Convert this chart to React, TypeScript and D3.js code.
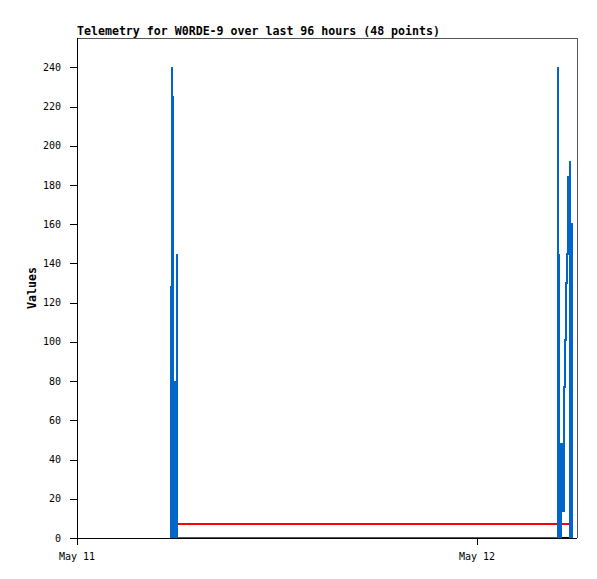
import React from "react";
import * as d3 from "d3";

const titleText = "Telemetry for W0RDE-9 over last 96 hours (48 points)";
const yAxisLabel = "Values";

const xDomain = ["2025-05-11T00:00:00Z", "2025-05-12T06:00:00Z"];
const xTickTimes = ["2025-05-11T00:00:00Z", "2025-05-12T00:00:00Z"];
const yDomain = [0, 255];
const yTicks = [0, 20, 40, 60, 80, 100, 120, 140, 160, 180, 200, 220, 240];

const blueTimes = [
  "2025-05-11T05:38:24Z", "2025-05-11T05:38:24Z", "2025-05-11T05:42:00Z", "2025-05-11T05:42:00Z",
  "2025-05-11T05:45:36Z", "2025-05-11T05:45:36Z", "2025-05-11T05:52:48Z", "2025-05-11T05:52:48Z",
  "2025-05-11T05:52:48Z", "2025-05-11T06:00:00Z", "2025-05-11T06:00:00Z", "2025-05-11T06:00:00Z",
  "2025-05-12T04:51:36Z", "2025-05-12T04:51:36Z", "2025-05-12T04:51:36Z", "2025-05-12T04:55:12Z",
  "2025-05-12T04:55:12Z", "2025-05-12T05:02:24Z", "2025-05-12T05:06:00Z", "2025-05-12T05:11:24Z",
  "2025-05-12T05:15:00Z", "2025-05-12T05:18:36Z", "2025-05-12T05:22:12Z", "2025-05-12T05:27:36Z",
  "2025-05-12T05:33:00Z", "2025-05-12T05:34:48Z", "2025-05-12T05:38:24Z", "2025-05-12T05:42:00Z",
  "2025-05-12T05:42:00Z",
];
const blueValues = [
  0, 128, 240, 225,
  225, 0, 0, 80,
  0, 0, 145, 0,
  0, 240, 0, 145,
  0, 48, 14, 77,
  101, 130, 145, 184,
  192, 0, 160, 64,
  0,
];

const redTimes = ["2025-05-11T05:42:00Z", "2025-05-12T05:34:48Z"];
const redValues = [7, 7];

const zeroTimes = ["2025-05-11T05:34:48Z", "2025-05-12T05:45:36Z"];
const zeroValues = [0, 0];

const W = 597;
const H = 579;
const M = { left: 77, right: 577, top: 38, bottom: 538 };
const MONO = "'DejaVu Sans Mono', 'Liberation Mono', monospace";

export default function App() {
  const x = d3.scaleUtc().domain(xDomain.map((d) => new Date(d))).range([M.left, M.right]);
  const y = d3.scaleLinear().domain(yDomain).range([M.bottom, M.top]);
  const fmt = d3.utcFormat("%b %d");

  const mk = (times: string[], vals: number[]) =>
    times.map((t, i) => ({ t: new Date(t), v: vals[i] }));
  const line = d3
    .line<{ t: Date; v: number }>()
    .x((d) => x(d.t))
    .y((d) => y(d.v));
  const stepLine = d3
    .line<{ t: Date; v: number }>()
    .x((d) => x(d.t))
    .y((d) => y(d.v))
    .curve(d3.curveStepAfter);

  const blue = mk(blueTimes, blueValues);
  const red = mk(redTimes, redValues);
  const zero = mk(zeroTimes, zeroValues);

  return (
    <svg
      width={W}
      height={H}
      style={{ position: "absolute", left: 0, top: 0, background: "#fff" }}
    >
      <rect x={0} y={0} width={W} height={H} fill="#fff" />
      {/* frame */}
      <line x1={M.left} x2={M.right} y1={M.top + 0.5} y2={M.top + 0.5} stroke="#555" strokeWidth={1} shapeRendering="crispEdges" />
      <line x1={M.right + 0.5} x2={M.right + 0.5} y1={M.top} y2={M.bottom} stroke="#555" strokeWidth={1} shapeRendering="crispEdges" />
      {/* series */}
      <path d={line(zero) || ""} fill="none" stroke="#000" strokeWidth={2} shapeRendering="crispEdges" />
      <path d={line(red) || ""} fill="none" stroke="#ff0000" strokeWidth={2} shapeRendering="crispEdges" />
      <path d={stepLine(blue) || ""} fill="none" stroke="#0066cc" strokeWidth={2} strokeLinejoin="miter" shapeRendering="crispEdges" />
      {/* axes */}
      <line x1={M.left + 0.5} x2={M.left + 0.5} y1={M.top} y2={M.bottom + 7} stroke="#000" strokeWidth={1} shapeRendering="crispEdges" />
      <line x1={M.left - 7} x2={M.right} y1={M.bottom + 0.5} y2={M.bottom + 0.5} stroke="#000" strokeWidth={1} shapeRendering="crispEdges" />
      {yTicks.map((t) => (
        <g key={t}>
          <line x1={M.left - 7} x2={M.left} y1={Math.round(y(t)) + 0.5} y2={Math.round(y(t)) + 0.5} stroke="#000" shapeRendering="crispEdges" />
          <text x={61} y={y(t)} dy="0.35em" textAnchor="end" fontFamily={MONO} fontSize={10} fill="#000">
            {t}
          </text>
        </g>
      ))}
      {xTickTimes.map((s) => {
        const d = new Date(s);
        const xp = Math.round(x(d)) + 0.5;
        return (
          <g key={s}>
            <line x1={xp} x2={xp} y1={M.bottom} y2={M.bottom + 7} stroke="#000" shapeRendering="crispEdges" />
            <text x={x(d)} y={560} textAnchor="middle" fontFamily={MONO} fontSize={10} fill="#000">
              {fmt(d)}
            </text>
          </g>
        );
      })}
      <text x={77} y={35} fontFamily={MONO} fontSize={11.6} fontWeight="bold" fill="#000">
        {titleText}
      </text>
      <text
        transform={`translate(36, ${(M.top + M.bottom) / 2}) rotate(-90)`}
        textAnchor="middle"
        fontFamily={MONO}
        fontSize={11.6}
        fontWeight="bold"
        fill="#000"
      >
        {yAxisLabel}
      </text>
    </svg>
  );
}
